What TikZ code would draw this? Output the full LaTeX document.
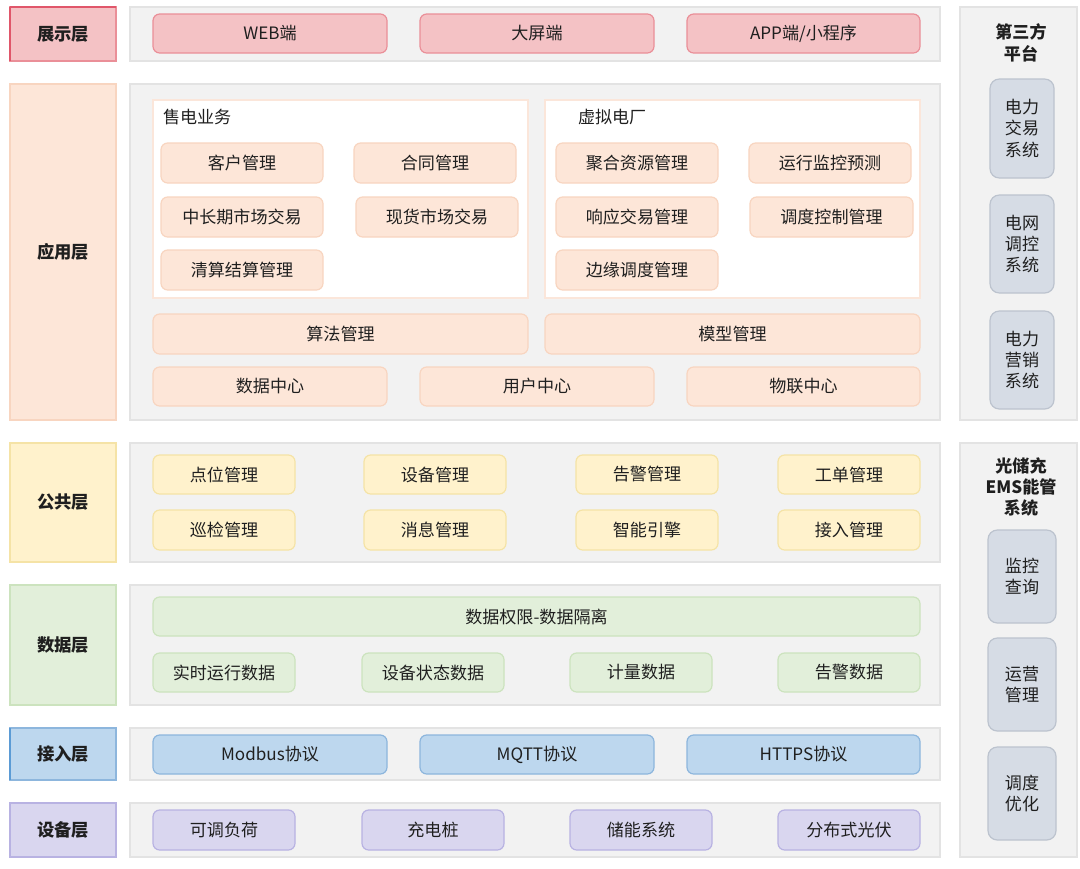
\documentclass[tikz,border=0pt]{standalone}
\usepackage{fontspec}
\setmainfont{Noto Sans CJK SC}
\definecolor{redF}{HTML}{F4C2C5}\definecolor{redD}{HTML}{EA8F98}\definecolor{redL}{HTML}{E0566A}
\definecolor{orF}{HTML}{FDE6D8}\definecolor{orD}{HTML}{F8D5C0}\definecolor{orW}{HTML}{FBE6DA}
\definecolor{yeF}{HTML}{FFF2CC}\definecolor{yeD}{HTML}{F5E3A6}
\definecolor{grF}{HTML}{E2EFDA}\definecolor{grD}{HTML}{CCE3BE}
\definecolor{blF}{HTML}{BDD7EE}\definecolor{blD}{HTML}{8DB6DD}\definecolor{blL}{HTML}{5B9BD5}
\definecolor{puF}{HTML}{D9D6EF}\definecolor{puD}{HTML}{B8B2E2}
\definecolor{gyF}{HTML}{D6DCE5}\definecolor{gyD}{HTML}{BCC3CE}
\definecolor{pnF}{HTML}{F2F2F2}\definecolor{pnD}{HTML}{E3E3E3}
\definecolor{txt}{HTML}{1F1F1F}
\tikzset{
  base/.style={inner sep=0pt, outer sep=0pt, line width=0.9pt, text=txt, font=\fontsize{12.8}{15}\selectfont},
  panel/.style={base, fill=pnF, draw=pnD},
  lab/.style={base, font=\fontsize{13}{15}\selectfont\bfseries},
  rbox/.style={base, rounded corners=5pt, fill=redF, draw=redD},
  obox/.style={base, rounded corners=5pt, fill=orF, draw=orD},
  ybox/.style={base, rounded corners=5pt, fill=yeF, draw=yeD},
  gbox/.style={base, rounded corners=5pt, fill=grF, draw=grD},
  bbox/.style={base, rounded corners=5pt, fill=blF, draw=blD},
  pbox/.style={base, rounded corners=5pt, fill=puF, draw=puD},
  sbox/.style={base, rounded corners=7pt, fill=gyF, draw=gyD, align=center, font=\fontsize{12.8}{16}\selectfont},
  wbox/.style={base, fill=white, draw=orW},
  ttl/.style={base, align=center, font=\fontsize{12.8}{16}\selectfont\bfseries},
}
\newcommand{\mybox}[7]{\node[#2, minimum width={(#5-#3)*0.75pt}, minimum height={(#6-#4)*0.75pt}] (#1) at ({(#3+#5)/2},{(#4+#6)/2}) {#7};}
\begin{document}
\begin{tikzpicture}[x=0.75pt,y=-0.75pt]
\fill[white] (0,0) rectangle (1080,868);
\useasboundingbox (0,0) rectangle (1080,868);
% layer labels
\mybox{l1}{lab, fill=redF, draw=redD}{10}{7}{116}{61}{展示层}
\mybox{l2}{lab, fill=orF, draw=orD}{10}{84}{116}{420}{应用层}
\mybox{l3}{lab, fill=yeF, draw=yeD}{10}{443}{116}{562}{公共层}
\mybox{l4}{lab, fill=grF, draw=grD}{10}{585}{116}{705}{数据层}
\mybox{l5}{lab, fill=blF, draw=blD}{10}{728}{116}{780}{接入层}
\mybox{l6}{lab, fill=puF, draw=puD}{10}{803}{116}{857}{设备层}
% panels
\mybox{p1}{panel}{130}{7}{940}{61}{}
\mybox{p2}{panel}{130}{84}{940}{420}{}
\mybox{p3}{panel}{130}{443}{940}{562}{}
\mybox{p4}{panel}{130}{585}{940}{705}{}
\mybox{p5}{panel}{130}{728}{940}{780}{}
\mybox{p6}{panel}{130}{803}{940}{857}{}
\mybox{q1}{panel}{960}{7}{1077}{420}{}
\mybox{q2}{panel}{960}{443}{1077}{857}{}
% display
\mybox{web}{rbox}{153}{14}{387}{53}{WEB端}
\mybox{big}{rbox}{420}{14}{654}{53}{大屏端}
\mybox{app}{rbox}{687}{14}{920}{53}{APP端/小程序}
% application
\mybox{sd}{wbox}{153}{100}{528}{298}{}
\mybox{vp}{wbox}{545}{100}{920}{298}{}
\node[base, anchor=west] (sdt) at (163,117) {售电业务};
\node[base, anchor=west] (vpt) at (578,117) {虚拟电厂};
\mybox{a1}{obox}{161}{143}{323}{183}{客户管理}
\mybox{a2}{obox}{354}{143}{516}{183}{合同管理}
\mybox{a3}{obox}{161}{197}{323}{237}{中长期市场交易}
\mybox{a4}{obox}{356}{197}{518}{237}{现货市场交易}
\mybox{a5}{obox}{161}{250}{323}{290}{清算结算管理}
\mybox{b1}{obox}{556}{143}{718}{183}{聚合资源管理}
\mybox{b2}{obox}{749}{143}{911}{183}{运行监控预测}
\mybox{b3}{obox}{556}{197}{718}{237}{响应交易管理}
\mybox{b4}{obox}{750}{197}{913}{237}{调度控制管理}
\mybox{b5}{obox}{556}{250}{718}{290}{边缘调度管理}
\mybox{c1}{obox}{153}{314}{528}{354}{算法管理}
\mybox{c2}{obox}{545}{314}{920}{354}{模型管理}
\mybox{d1}{obox}{153}{367}{387}{406}{数据中心}
\mybox{d2}{obox}{420}{367}{654}{406}{用户中心}
\mybox{d3}{obox}{687}{367}{920}{406}{物联中心}
% public
\mybox{e1}{ybox}{153}{455}{295}{494}{点位管理}
\mybox{e2}{ybox}{364}{455}{506}{494}{设备管理}
\mybox{e3}{ybox}{576}{455}{718}{494}{告警管理}
\mybox{e4}{ybox}{778}{455}{920}{494}{工单管理}
\mybox{e5}{ybox}{153}{510}{295}{550}{巡检管理}
\mybox{e6}{ybox}{364}{510}{506}{550}{消息管理}
\mybox{e7}{ybox}{576}{510}{718}{550}{智能引擎}
\mybox{e8}{ybox}{778}{510}{920}{550}{接入管理}
% data
\mybox{f0}{gbox}{153}{597}{920}{636}{数据权限-数据隔离}
\mybox{f1}{gbox}{153}{653}{295}{692}{实时运行数据}
\mybox{f2}{gbox}{362}{653}{504}{692}{设备状态数据}
\mybox{f3}{gbox}{570}{653}{712}{692}{计量数据}
\mybox{f4}{gbox}{778}{653}{920}{692}{告警数据}
% access
\mybox{g1}{bbox}{153}{735}{387}{774}{Modbus协议}
\mybox{g2}{bbox}{420}{735}{654}{774}{MQTT协议}
\mybox{g3}{bbox}{687}{735}{920}{774}{HTTPS协议}
% device
\mybox{h1}{pbox}{153}{810}{295}{850}{可调负荷}
\mybox{h2}{pbox}{362}{810}{504}{850}{充电桩}
\mybox{h3}{pbox}{570}{810}{712}{850}{储能系统}
\mybox{h4}{pbox}{778}{810}{920}{850}{分布式光伏}
% right column
\node[ttl] (tp) at (1021,43) {第三方\\平台};
\mybox{r1}{sbox}{990}{79}{1054}{178}{电力\\交易\\系统}
\mybox{r2}{sbox}{990}{195}{1054}{293}{电网\\调控\\系统}
\mybox{r3}{sbox}{990}{311}{1054}{409}{电力\\营销\\系统}
\node[ttl] (ems) at (1021,487) {光储充\\EMS能管\\系统};
\mybox{s1}{sbox}{988}{530}{1056}{623}{监控\\查询}
\mybox{s2}{sbox}{988}{638}{1056}{731}{运营\\管理}
\mybox{s3}{sbox}{988}{747}{1056}{840}{调度\\优化}
% darker edges on some labels
\draw[redL, line width=1.2pt] (l1.north west) -- (l1.south west);
\draw[redL, line width=0.9pt] (l1.north west) -- (l1.north east);
\draw[blL, line width=1.2pt] (l5.north west) -- (l5.south west);
\end{tikzpicture}
\end{document}
